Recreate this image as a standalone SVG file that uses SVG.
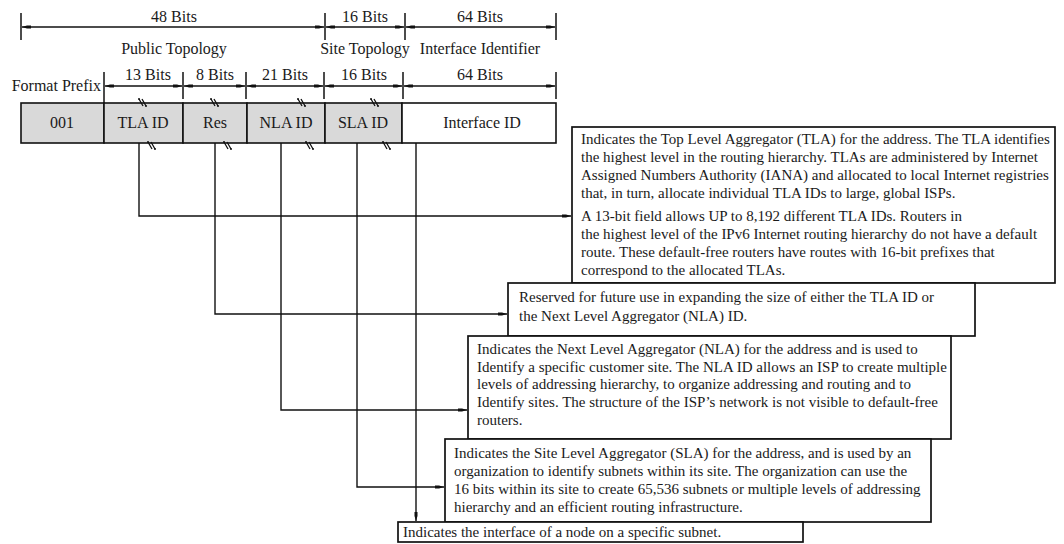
<svg xmlns="http://www.w3.org/2000/svg" width="1064" height="544" viewBox="0 0 1064 544">
  <style>
    text { font-family: "Liberation Serif", "DejaVu Serif", serif; fill: #1a1a1a; }
    .lbl { font-size: 16px; text-anchor: middle; }
    .body { font-size: 15px; }
    .dim { stroke: #111; stroke-width: 1.3; fill: none; marker-start: url(#dimArrow); marker-end: url(#dimArrow); }
    .tick { stroke: #111; stroke-width: 1.5; }
    .field { stroke: #111; stroke-width: 1.6; }
    .grey { fill: #d9d9d9; }
    .white { fill: #ffffff; }
    .note { fill: #ffffff; stroke: #111; stroke-width: 1.7; }
    .wire { stroke: #111; stroke-width: 1.4; fill: none; }
    .arrow { marker-end: url(#wireArrow); }
    .brk { stroke: #111; stroke-width: 1.3; fill: none; }
  </style>
  <defs>
    <marker id="dimArrow" viewBox="0 0 9 6" refX="9" refY="3" markerWidth="9" markerHeight="6" markerUnits="userSpaceOnUse" orient="auto-start-reverse">
      <path d="M0,1.5 L4,1.5 L9,3 L4,4.5 L0,4.5 z" fill="#111"/>
    </marker>
    <marker id="wireArrow" viewBox="0 0 9 6" refX="9" refY="3" markerWidth="9" markerHeight="6" markerUnits="userSpaceOnUse" orient="auto">
      <path d="M0,1.5 L4,1.5 L9,3 L4,4.5 L0,4.5 z" fill="#111"/>
    </marker>
    <!-- small break mark drawn across a field edge -->
    <g id="brk">
      <path class="brk" d="M-5,-4 L-1,3 M-2,-4 L2,3 M-6,-4 L-4,-4 M1,3 L3,3"/>
    </g>
  </defs>

  <!-- upper dimension row: 48 / 16 / 64 bits -->
  <g id="dims-top">
    <line class="tick" x1="21" y1="13" x2="21" y2="40"/>
    <line class="tick" x1="325" y1="13" x2="325" y2="40"/>
    <line class="tick" x1="405" y1="13" x2="405" y2="40"/>
    <line class="tick" x1="556" y1="13" x2="556" y2="40"/>
    <line class="dim" x1="22" y1="27" x2="324" y2="27"/>
    <line class="dim" x1="326" y1="27" x2="404" y2="27"/>
    <line class="dim" x1="406" y1="27" x2="555" y2="27"/>
    <text class="lbl" x="174" y="22">48 Bits</text>
    <text class="lbl" x="365" y="22">16 Bits</text>
    <text class="lbl" x="480" y="22">64 Bits</text>
    <text class="lbl" x="174" y="54">Public Topology</text>
    <text class="lbl" x="365" y="54">Site Topology</text>
    <text class="lbl" x="480" y="54">Interface Identifier</text>
  </g>

  <!-- lower dimension row: per-field widths -->
  <g id="dims-fields">
    <text class="lbl" x="101" y="91" style="text-anchor:end">Format Prefix</text>
    <line class="tick" x1="104" y1="72" x2="104" y2="103"/>
    <line class="tick" x1="183" y1="72" x2="183" y2="99"/>
    <line class="tick" x1="246" y1="72" x2="246" y2="99"/>
    <line class="tick" x1="324" y1="72" x2="324" y2="99"/>
    <line class="tick" x1="403" y1="72" x2="403" y2="99"/>
    <line class="tick" x1="556" y1="72" x2="556" y2="99"/>
    <line class="dim" x1="105" y1="86" x2="182" y2="86"/>
    <line class="dim" x1="184" y1="86" x2="245" y2="86"/>
    <line class="dim" x1="247" y1="86" x2="323" y2="86"/>
    <line class="dim" x1="325" y1="86" x2="402" y2="86"/>
    <line class="dim" x1="404" y1="86" x2="555" y2="86"/>
    <text class="lbl" x="148" y="80">13 Bits</text>
    <text class="lbl" x="215" y="80">8 Bits</text>
    <text class="lbl" x="285" y="80">21 Bits</text>
    <text class="lbl" x="364" y="80">16 Bits</text>
    <text class="lbl" x="480" y="80">64 Bits</text>
  </g>

  <!-- address fields -->
  <g id="field-prefix">
    <rect class="field grey" x="21" y="103" width="83" height="40"/>
    <text class="lbl" x="62" y="128">001</text>
  </g>
  <g id="field-tla">
    <rect class="field grey" x="104" y="103" width="79" height="40"/>
    <text class="lbl" x="143" y="128">TLA ID</text>
  </g>
  <g id="field-res">
    <rect class="field grey" x="183" y="103" width="64" height="40"/>
    <text class="lbl" x="215" y="128">Res</text>
  </g>
  <g id="field-nla">
    <rect class="field grey" x="247" y="103" width="78" height="40"/>
    <text class="lbl" x="286" y="128">NLA ID</text>
  </g>
  <g id="field-sla">
    <rect class="field grey" x="325" y="103" width="77" height="40"/>
    <text class="lbl" x="363" y="128">SLA ID</text>
  </g>
  <g id="field-interface">
    <rect class="field white" x="402" y="103" width="154" height="40"/>
    <text class="lbl" x="482" y="128">Interface ID</text>
  </g>

  <!-- break marks on the field edges -->
  <g id="breaks">
    <use href="#brk" x="144" y="103"/>
    <use href="#brk" x="216" y="103"/>
    <use href="#brk" x="303" y="103"/>
    <use href="#brk" x="376" y="103"/>
    <use href="#brk" x="153" y="146"/>
    <use href="#brk" x="229" y="146"/>
    <use href="#brk" x="311" y="146"/>
    <use href="#brk" x="388" y="146"/>
  </g>

  <!-- description boxes -->
  <g id="note-tla">
    <rect class="note" x="572" y="127" width="483" height="156"/>
    <text class="body" x="581" y="144">Indicates the Top Level Aggregator (TLA) for the address. The TLA identifies</text>
    <text class="body" x="581" y="162">the highest level in the routing hierarchy. TLAs are administered by Internet</text>
    <text class="body" x="581" y="180">Assigned Numbers Authority (IANA) and allocated to local Internet registries</text>
    <text class="body" x="581" y="198">that, in turn, allocate individual TLA IDs to large, global ISPs.</text>
    <text class="body" x="581" y="221">A 13-bit field allows UP to 8,192 different TLA IDs. Routers in</text>
    <text class="body" x="581" y="239">the highest level of the IPv6 Internet routing hierarchy do not have a default</text>
    <text class="body" x="581" y="257">route. These default-free routers have routes with 16-bit prefixes that</text>
    <text class="body" x="581" y="275">correspond to the allocated TLAs.</text>
  </g>
  <g id="note-res">
    <rect class="note" x="508" y="283" width="467" height="53"/>
    <text class="body" x="519" y="302">Reserved for future use in expanding the size of either the TLA ID or</text>
    <text class="body" x="519" y="321">the Next Level Aggregator (NLA) ID.</text>
  </g>
  <g id="note-nla">
    <rect class="note" x="468" y="336" width="483" height="103"/>
    <text class="body" x="477" y="354">Indicates the Next Level Aggregator (NLA) for the address and is used to</text>
    <text class="body" x="477" y="372">Identify a specific customer site. The NLA ID allows an ISP to create multiple</text>
    <text class="body" x="477" y="389">levels of addressing hierarchy, to organize addressing and routing and to</text>
    <text class="body" x="477" y="407">Identify sites. The structure of the ISP’s network is not visible to default-free</text>
    <text class="body" x="477" y="425">routers.</text>
  </g>
  <g id="note-sla">
    <rect class="note" x="445" y="439" width="486" height="83"/>
    <text class="body" x="454" y="458">Indicates the Site Level Aggregator (SLA) for the address, and is used by an</text>
    <text class="body" x="454" y="476">organization to identify subnets within its site. The organization can use the</text>
    <text class="body" x="454" y="494">16 bits within its site to create 65,536 subnets or multiple levels of addressing</text>
    <text class="body" x="454" y="512">hierarchy and an efficient routing infrastructure.</text>
  </g>
  <g id="note-interface">
    <rect class="note" x="398" y="522" width="405" height="20"/>
    <text class="body" x="403" y="537">Indicates the interface of a node on a specific subnet.</text>
  </g>

  <!-- connectors from each field to its description -->
  <g id="connectors">
    <path class="wire arrow" d="M139,143 V216 H571"/>
    <path class="wire arrow" d="M215,143 V314 H507"/>
    <path class="wire arrow" d="M281,143 V410 H467"/>
    <path class="wire arrow" d="M357,143 V487 H444"/>
    <path class="wire arrow" d="M416,143 V521"/>
  </g>
</svg>
